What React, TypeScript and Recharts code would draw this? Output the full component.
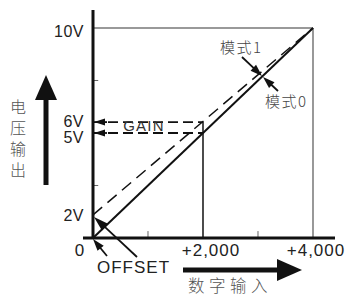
import { LineChart, Line, XAxis, YAxis, ReferenceLine } from "recharts";

// digital input -> analog output (two modes)
const inputs = [0, 4000];
const mode0Out = [0, 10];
const mode1Out = [1.1, 10];

const xTicks = [0, 2000, 4000];
const xTickLabels = ["0", "+2,000", "+4,000"];
const yTicks = [1.1, 5, 5.52, 10];
const yTickLabels = ["2V", "5V", "6V", "10V"];
const minorXTicks = [1000, 3000];
const minorYTicks = [2.5, 7.5];
const gainLevels = [5.52, 5];
const gainInput = 2000;

const lineData = inputs.map((x, i) => ({ x, m0: mode0Out[i], m1: mode1Out[i] }));

const FONT = "'Liberation Sans', Arial, sans-serif";
const CJK = "'Noto Sans CJK SC', sans-serif";

// same mapping as the chart's plot area, for annotations
const px = (v: number) => 93 + (v * 220) / 4000;
const py = (v: number) => 238 - v * 21;

const xDx = [-13, 8, 3];
const yDy = [6, 10, 5, 9];

function XTick(props: any) {
  const { x, index } = props;
  return (
    <text x={x + xDx[index]} y={256} textAnchor="middle" fontFamily={FONT} fontSize={17} letterSpacing={1} fill="#222">
      {xTickLabels[index]}
    </text>
  );
}

function YTick(props: any) {
  const { y, index } = props;
  return (
    <text x={84} y={y + yDy[index]} textAnchor="end" fontFamily={FONT} fontSize={16} letterSpacing={0.5} fill="#222">
      {yTickLabels[index]}
    </text>
  );
}

function Arrow({ x1, y1, x2, y2, head = 11, w = 3.5, sw = 1.5 }: any) {
  const dx = x2 - x1;
  const dy = y2 - y1;
  const len = Math.sqrt(dx * dx + dy * dy);
  const ux = dx / len;
  const uy = dy / len;
  const bx = x2 - ux * head;
  const by = y2 - uy * head;
  const pts = `${x2},${y2} ${bx - uy * w},${by + ux * w} ${bx + uy * w},${by - ux * w}`;
  return (
    <g>
      <line x1={x1} y1={y1} x2={bx + ux * 1} y2={by + uy * 1} stroke="#111" strokeWidth={sw} />
      <polygon points={pts} fill="#111" />
    </g>
  );
}

export default function App() {
  return (
    <div style={{ position: "absolute", left: 0, top: 0, width: 347, height: 297, background: "#fff" }}>
      <LineChart width={347} height={297} data={lineData} margin={{ top: 10, right: 12, bottom: 29, left: 23 }}>
        <XAxis
          type="number"
          dataKey="x"
          domain={[-181.8, 4400]}
          ticks={xTicks}
          axisLine={false}
          tickLine={false}
          height={30}
          tick={<XTick />}
          interval={0}
        />
        <YAxis
          type="number"
          domain={[0, 10.857]}
          ticks={yTicks}
          axisLine={false}
          tickLine={false}
          width={60}
          tick={<YTick />}
          interval={0}
        />
        {/* full-scale frame */}
        <ReferenceLine segment={[{ x: 0, y: 10 }, { x: 4000, y: 10 }]} stroke="#777" strokeWidth={1.5} />
        <ReferenceLine segment={[{ x: 4000, y: 0 }, { x: 4000, y: 10 }]} stroke="#777" strokeWidth={1.5} />
        <ReferenceLine segment={[{ x: gainInput, y: 0 }, { x: gainInput, y: gainLevels[0] }]} stroke="#111" strokeWidth={1.5} />
        {gainLevels.map((g) => (
          <ReferenceLine key={g} segment={[{ x: 0, y: g }, { x: gainInput, y: g }]} stroke="#111" strokeWidth={1.8} strokeDasharray="10 5" />
        ))}
        {minorYTicks.map((t) => (
          <ReferenceLine key={"y" + t} segment={[{ x: 0, y: t }, { x: 95, y: t }]} stroke="#666" strokeWidth={1} />
        ))}
        {minorXTicks.map((t) => (
          <ReferenceLine key={"x" + t} segment={[{ x: t, y: 0 }, { x: t, y: 0.33 }]} stroke="#666" strokeWidth={1} />
        ))}
        <Line dataKey="m1" stroke="#111" strokeWidth={1.5} strokeDasharray="12 7" dot={false} isAnimationActive={false} />
        <Line dataKey="m0" stroke="#111" strokeWidth={2} dot={false} isAnimationActive={false} />
        <ReferenceLine y={0} stroke="#111" strokeWidth={3} />
        <ReferenceLine x={0} stroke="#111" strokeWidth={3} />
      </LineChart>
      <svg width={347} height={297} style={{ position: "absolute", left: 0, top: 0, pointerEvents: "none" }}>
        {/* axis direction arrows */}
        <Arrow x1={46} y1={185} x2={46} y2={75} head={25} w={11} sw={5} />
        <Arrow x1={183} y1={270} x2={302} y2={270} head={25} w={11} sw={5} />
        <text
          x={18}
          y={99}
          style={{ writingMode: "vertical-rl" }}
          fontFamily={CJK}
          fontSize={16}
          fontWeight={300}
          letterSpacing={5}
          fill="#555"
        >
          电压输出
        </text>
        <text x={188} y={285} dominantBaseline="central" fontFamily={CJK} fontSize={16.5} fontWeight={300} letterSpacing={4.5} fill="#555">
          数字输入
        </text>
        {/* gain pointers */}
        {gainLevels.map((g) => (
          <Arrow key={g} x1={107} y1={py(g)} x2={94} y2={py(g)} head={11} w={3.5} sw={1.8} />
        ))}
        <text x={144} y={125.5} textAnchor="middle" dominantBaseline="central" fontFamily={FONT} fontSize={15} letterSpacing={1.2} fill="#333">
          GAIN
        </text>
        {/* offset pointers */}
        <Arrow x1={137} y1={257} x2={px(0) + 1} y2={py(mode1Out[0]) + 2} head={15} w={4.5} sw={1.8} />
        <Arrow x1={107} y1={256} x2={px(0)} y2={py(0) + 1} head={12} w={4} sw={1.8} />
        <text x={97} y={267} dominantBaseline="central" fontFamily={FONT} fontSize={17} letterSpacing={1} fill="#222">
          OFFSET
        </text>
        {/* mode pointers */}
        <Arrow x1={242} y1={57} x2={262} y2={76} head={12} w={4} sw={1.8} />
        <Arrow x1={278} y1={91} x2={263} y2={77} head={12} w={4} sw={1.8} />
        <text x={220} y={46.5} dominantBaseline="central" fontFamily={CJK} fontSize={15} fontWeight={300} letterSpacing={1.5} fill="#444">
          模式1
        </text>
        <text x={265} y={100} dominantBaseline="central" fontFamily={CJK} fontSize={15} fontWeight={300} letterSpacing={1.5} fill="#444">
          模式0
        </text>
      </svg>
    </div>
  );
}
